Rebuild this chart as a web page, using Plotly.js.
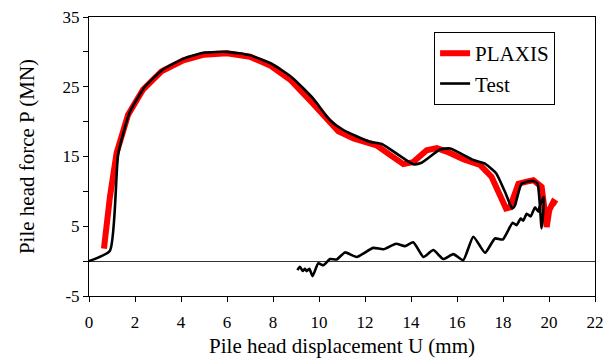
<!DOCTYPE html>
<html>
<head>
<meta charset="utf-8">
<script src="https://cdn.plot.ly/plotly-3.0.1.min.js"></script>
<style>html,body{margin:0;padding:0;background:#fff;}#chart{width:613px;height:358px;}</style>
</head>
<body>
<div id="chart"></div>
<script>
// PLAXIS series
const plaxisU = [0.65, 0.91, 1.2, 1.7, 2.35, 3.15, 4.1, 5.0, 6.0, 7.0, 7.9, 8.75, 9.7, 10.84, 11.5, 12.07, 12.5, 13.1, 13.67, 14.1, 14.68, 15.12, 15.55, 16.27, 17.0, 17.5, 17.87, 18.13, 18.3, 18.67, 19.03, 19.32, 19.68, 19.9, 20.01, 20.19, 20.33];
const plaxisP = [1.8, 9.2, 15.5, 21.0, 24.6, 27.2, 28.8, 29.6, 29.8, 29.3, 28.0, 26.0, 22.7, 18.6, 17.6, 17.1, 16.6, 15.2, 13.9, 14.2, 15.9, 16.2, 15.7, 14.6, 13.8, 12.1, 9.7, 7.55, 7.7, 11.1, 11.4, 11.6, 10.65, 4.9, 7.3, 8.5, 8.2];
// Test series (loading branch, then unloading/reloading branch)
const testU = [0.0, 0.91, 1.27, 1.78, 2.43, 3.23, 4.17, 5.04, 6.0, 7.0, 7.94, 8.8, 9.75, 10.48, 11.06, 12.2, 12.73, 14.1, 14.46, 15.26, 15.7, 16.71, 17.2, 17.7, 18.09, 18.4, 18.52, 18.81, 19.32, 19.5, 19.68, 19.78,
  19.6, 19.54, 19.39, 19.2, 19.03, 18.88, 18.77, 18.59, 18.42, 17.99, 17.65, 17.22, 16.71, 16.27, 15.84, 15.4, 14.97, 14.54, 14.1, 13.74, 13.35, 12.8, 12.36, 11.64, 11.13, 10.77, 10.48, 10.19, 9.97, 9.72, 9.58, 9.46, 9.39, 9.29, 9.17, 9.06];
const testP = [0.0, 1.5, 15.4, 21.4, 25.0, 27.5, 29.1, 29.9, 30.0, 29.5, 28.3, 26.4, 23.3, 20.2, 18.8, 17.1, 16.8, 13.9, 14.1, 16.0, 16.15, 14.5, 14.0, 12.6, 9.9, 7.55, 8.0, 11.1, 11.5, 11.1, 4.7, 9.2,
  8.0, 7.1, 7.7, 6.4, 6.8, 5.8, 6.1, 5.15, 5.5, 3.1, 3.25, 1.2, 3.5, 0.14, 1.0, 0.3, 1.6, 0.6, 2.7, 2.15, 2.5, 1.7, 1.9, 0.6, 1.25, 0.24, 0.3, -0.6, -0.3, -2.15, -1.1, -1.43, -1.1, -1.4, -0.8, -1.3];
const xTicks = [0, 2, 4, 6, 8, 10, 12, 14, 16, 18, 20, 22];
const yTicks = [-5, 0, 5, 10, 15, 20, 25, 30, 35];
const yTickText = ['-5', '', '5', '', '15', '', '25', '', '35'];

const font = 'Liberation Serif';
const traces = [
  {x: plaxisU, y: plaxisP, name: 'PLAXIS', mode: 'lines', line: {color: '#ff0000', width: 6}},
  {x: testU, y: testP, name: 'Test', mode: 'lines', line: {color: '#000000', width: 2.6, shape: 'spline', smoothing: 0.5}}
];
const layout = {
  width: 613, height: 358,
  margin: {l: 89, r: 18, t: 17, b: 62},
  paper_bgcolor: '#fff', plot_bgcolor: '#fff',
  font: {family: font, color: '#000', size: 16},
  showlegend: true,
  legend: {x: 0.682, y: 0.946, xanchor: 'left', yanchor: 'top', bordercolor: '#000', borderwidth: 1,
    bgcolor: '#fff', font: {family: font, size: 21, color: '#000'}, itemwidth: 30, tracegroupgap: 0},
  xaxis: {range: [0, 22], tickvals: xTicks, ticks: 'outside', ticklen: 5, tickcolor: '#000',
    showline: true, linecolor: '#000', linewidth: 1, mirror: true, showgrid: false, zeroline: false,
    ticklabelstandoff: 6,
    tickfont: {family: font, size: 17}, title: {text: 'Pile head displacement U (mm)', font: {family: font, size: 21}, standoff: 10}},
  yaxis: {range: [-5, 35], tickvals: yTicks, ticktext: yTickText, ticks: 'outside', ticklen: 5, tickcolor: '#000',
    showline: true, linecolor: '#000', linewidth: 1, mirror: true, showgrid: false,
    zeroline: true, zerolinecolor: '#333', zerolinewidth: 1,
    tickfont: {family: font, size: 17}, title: {text: 'Pile head force P (MN)', font: {family: font, size: 21}, standoff: 22}}
};
Plotly.newPlot('chart', traces, layout, {displayModeBar: false, staticPlot: true});
</script>
</body>
</html>
